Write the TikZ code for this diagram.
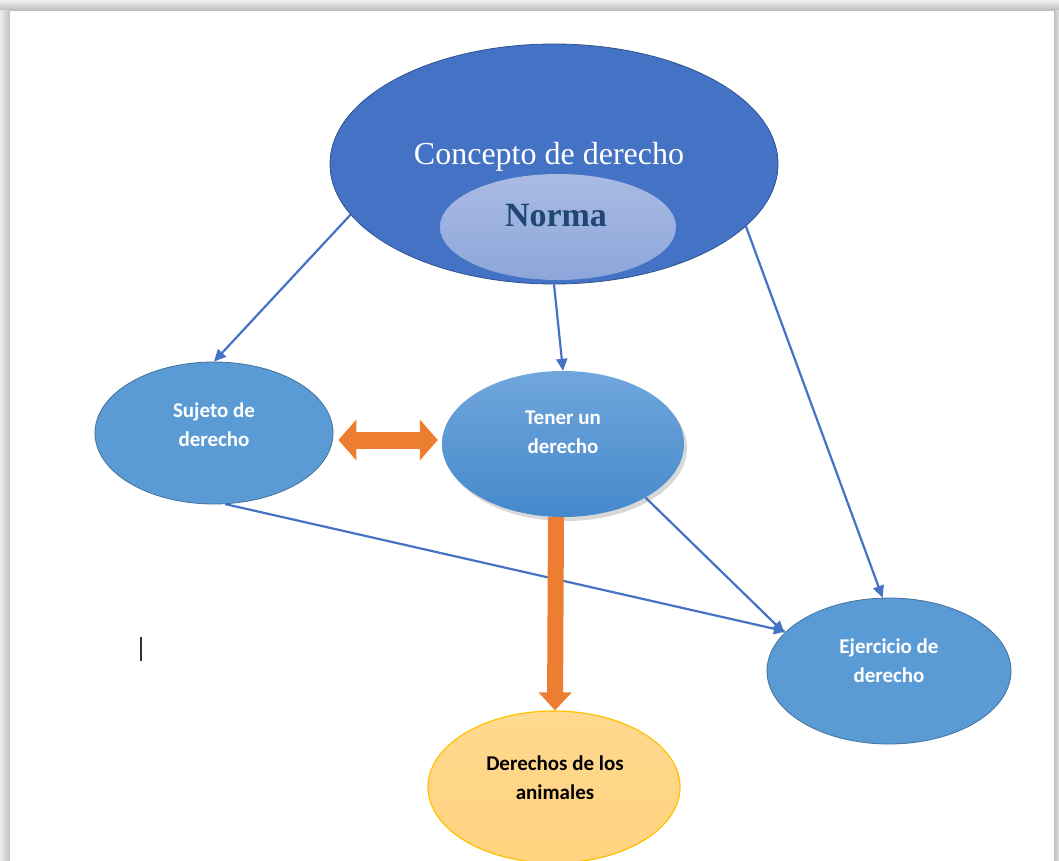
\documentclass[tikz,border=0pt]{standalone}
\usepackage{fontspec}
\setmainfont{Carlito}
\newfontfamily\serifx{Liberation Serif}
\usetikzlibrary{shapes.geometric,arrows.meta,shadows,calc}
\definecolor{cBig}{HTML}{4472C4}
\definecolor{cBigB}{HTML}{2F528F}
\definecolor{cMid}{HTML}{5B9BD5}
\definecolor{cMidB}{HTML}{41719C}
\definecolor{cTenT}{HTML}{70A6DC}
\definecolor{cTenB}{HTML}{4589CB}
\definecolor{cNormT}{HTML}{AABBE3}
\definecolor{cNormB}{HTML}{8DA6DA}
\definecolor{cNormTxt}{HTML}{1F4675}
\definecolor{cOr}{HTML}{ED7D31}
\definecolor{cAniT}{HTML}{FFD98F}
\definecolor{cAniB}{HTML}{FFD37F}
\definecolor{cAniBd}{HTML}{FFC000}
\definecolor{cLine}{HTML}{4472C4}
\tikzset{
  ell/.style={ellipse, inner sep=0pt},
  bigell/.style={ell, fill=cBig, draw=cBigB, line width=0.8pt},
  normell/.style={ell, top color=cNormT, bottom color=cNormB, draw=none},
  midell/.style={ell, fill=cMid, draw=cMidB, line width=0.8pt},
  tenell/.style={ell, top color=cTenT, bottom color=cTenB, draw=none,
     drop shadow={opacity=0.3, shadow xshift=3pt, shadow yshift=-4pt}},
  aniell/.style={ell, top color=cAniT, bottom color=cAniB, draw=cAniBd, line width=1.2pt},
  lbl/.style={font=\bfseries\fontsize{21}{29}\selectfont, align=center, inner sep=0pt},
  conn/.style={draw=cLine, line width=2.2pt, -{Triangle[width=11pt,length=12pt]}},
  fat/.style={draw=cOr, line width=16pt, -{Triangle[width=32pt,length=18pt]}},
  dbl/.style={draw=cOr, line width=17pt, {Triangle[width=40pt,length=18pt]}-{Triangle[width=40pt,length=18pt]}}
}
\begin{document}
\begin{tikzpicture}[x=1pt,y=-1pt]
\useasboundingbox (0,0) rectangle (1059,861);
% page shadow
\fill[white] (0,0) rectangle (1059,861);
\shade[top color=gray!10, bottom color=gray!55] (0,0) rectangle (1059,11);
\shade[left color=gray!15, right color=gray!50] (0,11) rectangle (10,861);
\shade[left color=gray!50, right color=gray!25] (1054,11) rectangle (1059,861);
\fill[white] (10,11) rectangle (1054,861);
% nodes
\node[bigell, minimum width=448pt, minimum height=240pt] (con) at (554,164) {};
\node[normell, minimum width=236pt, minimum height=106pt] (nor) at (558,227) {};
\node[font=\serifx\fontsize{32}{36}\selectfont, text=white, inner sep=0pt] (cont) at (549,157) {Concepto de derecho};
\node[font=\serifx\bfseries\fontsize{34}{38}\selectfont, text=cNormTxt, inner sep=0pt] (nort) at (556,216) {Norma};
\node[midell, minimum width=238pt, minimum height=142pt] (suj) at (214,433) {};
\node[tenell, minimum width=242pt, minimum height=146pt] (ten) at (563,444) {};
\node[midell, minimum width=244pt, minimum height=146pt] (eje) at (889,671) {};
\node[aniell, minimum width=252pt, minimum height=152pt] (ani) at (554,787) {};
\node[lbl, text=white] (sujt) at (214,425) {Sujeto de\\derecho};
\node[lbl, text=white] (tent) at (563,432) {Tener un\\derecho};
\node[lbl, text=white] (ejet) at (889,661) {Ejercicio de\\derecho};
\node[lbl, text=black] (anit) at (555,778) {Derechos de los\\animales};
% connectors
\draw[conn] (con.194) -- (suj.north);
\draw[conn] (con.south) -- (ten.north);
\draw[conn] (con.-18) -- (eje.95);
\draw[conn] (suj.-81) -- (eje.159);
\draw[conn] (ten.-33) -- (eje.160);
\draw[fat] ([xshift=-7pt]ten.south) -- ([xshift=1pt]ani.north);
\draw[dbl] ([xshift=5pt,yshift=-7pt]suj.east) -- ([xshift=-4pt,yshift=4pt]ten.west);
% text cursor
\coordinate (cur) at (141,637);
\draw[black!80, line width=1.6pt] (cur) -- ++(0,24);
\end{tikzpicture}
\end{document}
